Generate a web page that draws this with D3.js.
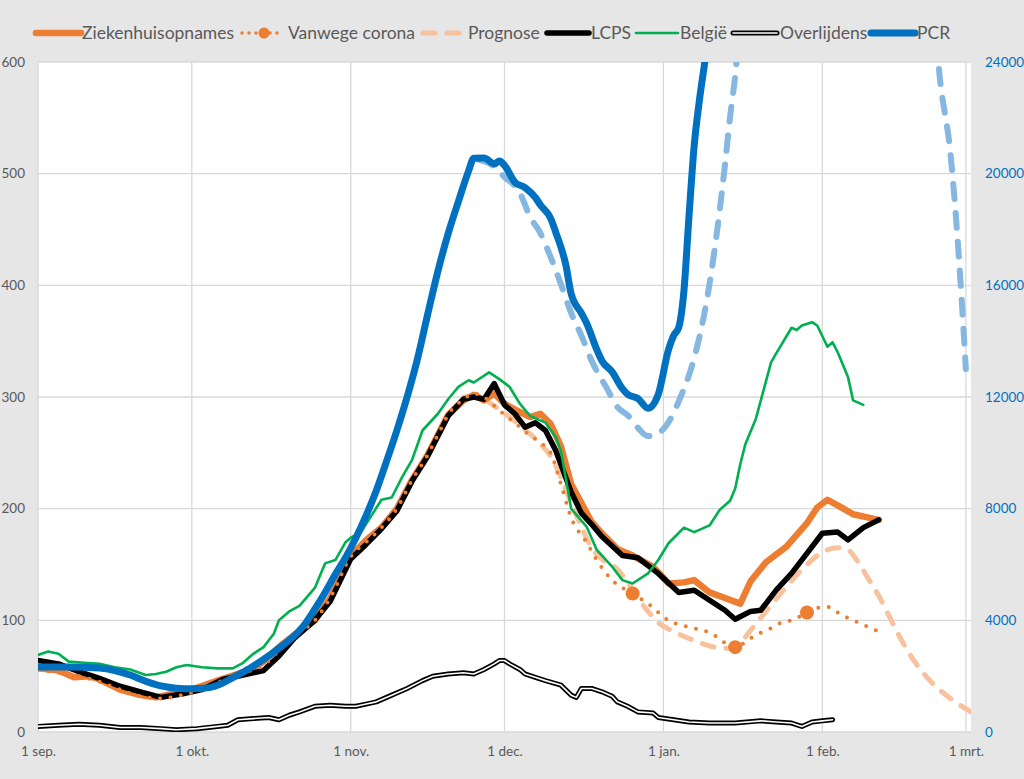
<!DOCTYPE html>
<html>
<head>
<meta charset="utf-8">
<script src="https://cdn.jsdelivr.net/npm/d3@7"></script>
<style>
  body { margin: 0; background: #e6e6e6; }
  svg { display: block; font-family: Lato, "Open Sans", sans-serif; }
</style>
</head>
<body>
<div id="chart"></div>
<script>
// days since 1 sep 2021, value
const ziekenhuis = [[0,57],[4,55],[7,49],[10,50],[12,47],[16,38],[20,33],[23,31],[27,35],[30,38],[35,46],[41,55],[44,63],[47,76],[50,87],[54,100],[57,120],[61,157],[64,172],[67,183],[70,200],[73,226],[76,248],[78,266],[80,284],[83,297],[85,302],[87,297],[89,303],[91,294],[93,289],[96,282],[98,285],[100,276],[102,256],[104,222],[106,205],[108,188],[110,178],[113,164],[116,158],[120,148],[123,133],[126,134],[128,136],[131,125],[134,120],[137,115],[139,135],[142,152],[146,166],[150,187],[152,201],[154,208],[156,203],[159,195],[162,192],[164,190]];
const vanwegeCorona = [[0,56],[4,53],[8,50],[12,45],[16,38],[20,32],[24,30],[28,33],[32,38],[36,46],[40,53],[44,60],[47,73],[50,86],[54,100],[57,120],[61,157],[64,170],[67,183],[70,200],[73,226],[76,248],[78,266],[80,284],[83,298],[85,303],[87,300],[89,292],[91,284],[93,277],[95,269],[98,259],[100,250],[102,222],[104,192],[107,170],[109,154],[112,136],[116,124],[119,115],[123,100],[127,94],[131,89],[136,76],[139,84],[141,89],[143,93],[145,98],[147,100],[150,107],[152,111],[154,112],[156,107],[158,102],[160,98],[162,94],[164,90]];
const vanwegeMarkers = [[116,124],[136,76],[150,107]];
const prognose = [[83,300],[86,300],[89,292],[92,282],[95,271],[98,258],[100,247],[102,228],[104,205],[106,184],[108,165],[110,155],[113,146],[115,134],[117,120],[119,108],[121,98],[124,90],[128,82],[132,76],[135,75],[137,80],[139,91],[142,108],[146,130],[150,150],[153,161],[156,165],[158,163],[160,152],[162,137],[164,122],[166,104],[168,86],[171,63],[174,46],[178,30],[182,18]];
const lcps = [[0,64],[4,61],[8,54],[12,48],[16,41],[20,36],[24,31],[28,34],[32,38],[36,47],[40,51],[44,55],[47,68],[50,84],[54,100],[57,117],[61,155],[64,168],[67,182],[70,198],[73,225],[76,247],[78,265],[80,283],[83,298],[85,300],[87,298],[89,312],[91,293],[93,285],[95,273],[97,277],[99,270],[101,252],[104,215],[106,196],[108,186],[110,175],[114,158],[117,156],[121,142],[125,125],[128,127],[131,118],[134,109],[136,101],[139,108],[141,109],[144,127],[147,142],[150,160],[153,178],[156,179],[158,172],[161,183],[164,190]];
const belgie = [[0,69],[2,72],[4,70],[6,63],[9,62],[12,61],[15,58],[18,56],[21,51],[23,52],[25,54],[27,58],[29,60],[32,58],[35,57],[38,57],[40,62],[42,70],[44,76],[46,88],[47,100],[49,108],[51,113],[54,129],[56,151],[58,154],[60,170],[61,174],[63,179],[67,208],[69,210],[71,228],[73,244],[75,270],[78,285],[80,298],[82,309],[84,315],[85,313],[88,322],[90,316],[92,309],[94,294],[96,283],[99,277],[101,264],[102,252],[104,200],[107,184],[109,163],[112,148],[114,136],[116,133],[119,142],[121,154],[123,169],[126,183],[128,179],[131,185],[133,199],[135,207],[136,218],[137,240],[138,258],[140,280],[141,297],[143,331],[144,339],[147,362],[148,360],[149,364],[151,367],[152,364],[154,345],[155,349],[156,340],[158,318],[159,297],[161,293]];
const overlijdens = [[0,5],[4,6],[8,7],[12,6],[16,4],[20,4],[24,3],[27,2],[31,3],[35,5],[37,6],[39,11],[42,12],[45,13],[47,11],[49,15],[51,18],[54,23],[57,24],[60,23],[62,23],[64,25],[66,27],[69,33],[72,39],[75,46],[77,50],[80,52],[83,53],[85,52],[87,56],[89,61],[90,64],[91,64],[92,61],[94,56],[95,52],[97,49],[99,46],[102,42],[104,33],[105,31],[106,39],[108,39],[110,36],[112,32],[113,27],[115,23],[117,18],[120,17],[121,13],[124,11],[127,9],[131,8],[136,8],[141,10],[144,9],[147,8],[149,5],[151,9],[153,10],[155,11]];
// PCR on right axis
const pcr = [[0,2330],[6,2330],[12,2290],[15,2200],[18,2040],[21,1820],[24,1650],[27,1570],[30,1550],[33,1580],[36,1750],[38,1950],[41,2250],[44,2600],[47,3000],[50,3450],[52,3850],[54,4400],[56,5000],[58,5650],[60,6250],[62,6950],[64,7750],[66,8650],[68,9700],[70,10800],[72,12000],[74,13350],[76,14950],[78,16500],[80,17850],[82,19000],[84,20100],[85,20550],[87,20560],[89,20350],[90,20450],[91,20300],[93,19700],[95,19500],[97,19150],[98,18880],[100,18400],[101,17900],[103,16700],[104,15700],[106,15000],[107,14650],[109,13700],[110,13300],[112,12900],[114,12300],[115,12100],[117,11950],[119,11600],[121,12100],[123,13700],[124,14200],[125,14500],[126,15800],[127,18500],[128,21000],[129,22600],[130,23900],[131,25200]];
const pcrPrognose = [[86,20500],[88,20380],[91,19880],[94,19310],[96,18450],[98,17870],[100,17010],[102,16050],[104,15010],[106,14200],[108,13300],[111,12300],[113,11640],[115,11350],[117,10900],[119,10600],[121,10700],[123,11100],[125,11850],[128,13400],[130,15000],[132,17300],[134,20300],[135,22030],[136,23500],[138,27500],[174,27000],[176,23300],[178,20700],[179,18600],[180,16000],[181,13000]];

const monthLabels = ['1 sep.', '1 okt.', '1 nov.', '1 dec.', '1 jan.', '1 feb.', '1 mrt.'];
const leftTicks = [0, 100, 200, 300, 400, 500, 600];
const rightTicks = [0, 4000, 8000, 12000, 16000, 20000, 24000];
const legendLabels = ['Ziekenhuisopnames', 'Vanwege corona', 'Prognose', 'LCPS', 'België', 'Overlijdens', 'PCR'];

const width = 1024, height = 779;
const plot = {left: 38, right: 971, top: 62, bottom: 732};
const textColor = '#595959';
const gridColor = '#d9d9d9';

const start = new Date(2021, 8, 1);
const toDate = d => d3.timeDay.offset(start, d);

const x = d3.scaleTime().domain([start, new Date(2022, 2, 2)]).range([plot.left, plot.right]);
const yL = d3.scaleLinear().domain([0, 600]).range([plot.bottom, plot.top]);
const yR = d3.scaleLinear().domain([0, 24000]).range([plot.bottom, plot.top]);

const svg = d3.select('#chart').append('svg')
    .attr('width', width)
    .attr('height', height);

svg.append('rect').attr('width', width).attr('height', height).attr('fill', '#e6e6e6');
svg.append('rect')
    .attr('x', plot.left).attr('y', plot.top)
    .attr('width', plot.right - plot.left).attr('height', plot.bottom - plot.top)
    .attr('fill', '#fff');

svg.append('clipPath').attr('id', 'clip')
  .append('rect')
    .attr('x', plot.left).attr('y', plot.top)
    .attr('width', plot.right - plot.left).attr('height', plot.bottom - plot.top);

// grid
const months = d3.timeMonth.range(start, new Date(2022, 2, 2));
svg.append('g').selectAll('line').data(months).enter()
  .append('line')
    .attr('x1', d => x(d)).attr('x2', d => x(d))
    .attr('y1', plot.top).attr('y2', plot.bottom)
    .attr('stroke', gridColor).attr('stroke-width', 1.3);
svg.append('g').selectAll('line').data(leftTicks).enter()
  .append('line')
    .attr('x1', plot.left).attr('x2', plot.right)
    .attr('y1', d => yL(d)).attr('y2', d => yL(d))
    .attr('stroke', gridColor).attr('stroke-width', 1.3);

// axes
const xAxis = svg.append('g')
    .attr('transform', `translate(0, ${plot.bottom})`)
    .call(d3.axisBottom(x).tickValues(months).tickSize(0).tickPadding(14)
        .tickFormat((d, i) => monthLabels[i]));
const leftAxis = svg.append('g')
    .attr('transform', `translate(${plot.left}, 0)`)
    .call(d3.axisLeft(yL).tickValues(leftTicks).tickSize(0).tickPadding(13));
const rightAxis = svg.append('g')
    .attr('transform', `translate(${plot.right}, 0)`)
    .call(d3.axisRight(yR).tickValues(rightTicks).tickSize(0).tickPadding(14).tickFormat(d3.format('d')));

[xAxis, leftAxis, rightAxis].forEach(a => {
    a.select('.domain').remove();
    a.selectAll('text').attr('font-size', 13.5).attr('font-family', 'Lato, sans-serif').attr('fill', textColor);
});
rightAxis.selectAll('text').attr('fill', '#0070C0');

// lines
const lineL = d3.line().x(p => x(toDate(p[0]))).y(p => yL(p[1]));
const smoothL = d3.line().x(p => x(toDate(p[0]))).y(p => yL(p[1])).curve(d3.curveMonotoneX);
const smoothR = d3.line().x(p => x(toDate(p[0]))).y(p => yR(p[1])).curve(d3.curveMonotoneX);

const lines = svg.append('g').attr('clip-path', 'url(#clip)')
    .attr('fill', 'none').attr('stroke-linejoin', 'round');

function path(data, gen, color, w, dash) {
    const p = lines.append('path')
        .attr('d', gen(data))
        .attr('stroke', color)
        .attr('stroke-width', w)
        .attr('stroke-linecap', 'round');
    if (dash) p.attr('stroke-dasharray', dash);
    return p;
}

path(prognose, smoothL, '#f7c29d', 5, '12 12');
path(ziekenhuis, lineL, '#ED7D31', 6.5);
path(lcps, lineL, '#000', 5.5);
path(vanwegeCorona, smoothL, '#ED7D31', 4, '0 10.5');
lines.selectAll('.marker').data(vanwegeMarkers).enter()
  .append('circle')
    .attr('cx', p => x(toDate(p[0])))
    .attr('cy', p => yL(p[1]))
    .attr('r', 7)
    .attr('fill', '#ED7D31');
path(belgie, lineL, '#00B050', 2.6);
path(overlijdens, lineL, '#000', 5);
path(overlijdens, lineL, '#fff', 1.6);
path(pcrPrognose, smoothR, '#85b7e1', 6, '15 14');
path(pcr, smoothR, '#0070C0', 7);

// legend
const legend = svg.append('g').attr('font-size', 17.5).attr('fill', textColor);
const ly = 33;
const legendItems = [
    {x1: 36, x2: 81, tx: 82},
    {x1: 242, x2: 284, tx: 288},
    {x1: 423, x2: 463, tx: 468},
    {x1: 547, x2: 589, tx: 591},
    {x1: 636, x2: 678, tx: 680},
    {x1: 733, x2: 777, tx: 780},
    {x1: 871, x2: 915, tx: 917}
];
function legLine(it, color, w, dash) {
    const l = legend.append('line')
        .attr('x1', it.x1).attr('x2', it.x2).attr('y1', ly).attr('y2', ly)
        .attr('stroke', color).attr('stroke-width', w).attr('stroke-linecap', 'round');
    if (dash) l.attr('stroke-dasharray', dash);
}
legLine(legendItems[0], '#ED7D31', 6.5);
legLine(legendItems[1], '#ED7D31', 3.5, '0 7');
legend.append('circle').attr('cx', 264).attr('cy', ly).attr('r', 5.5).attr('fill', '#ED7D31');
legLine(legendItems[2], '#f7c29d', 5, '12 12');
legLine(legendItems[3], '#000', 5.5);
legLine(legendItems[4], '#00B050', 2.6);
legLine(legendItems[5], '#000', 5);
legLine(legendItems[5], '#fff', 1.6);
legLine(legendItems[6], '#0070C0', 7);

legend.selectAll('text').data(legendLabels).enter()
  .append('text')
    .attr('x', (d, i) => legendItems[i].tx)
    .attr('y', ly)
    .attr('dy', '0.36em')
    .text(d => d);
</script>
</body>
</html>
